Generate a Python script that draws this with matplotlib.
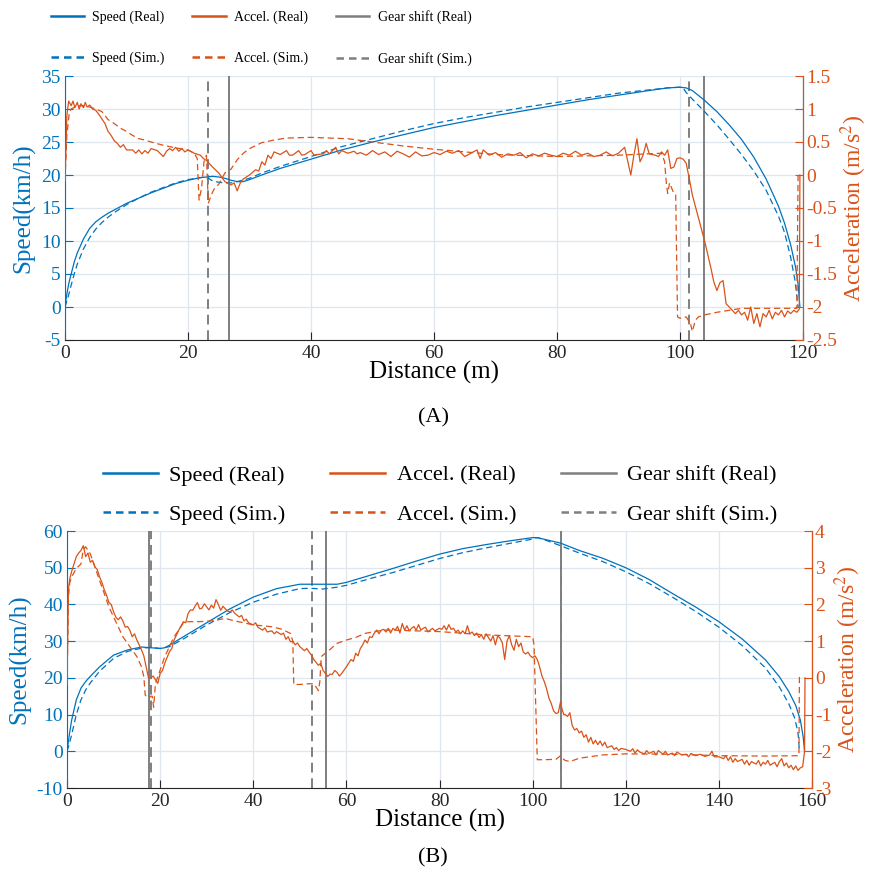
import numpy as np
import matplotlib
matplotlib.use("Agg")
import matplotlib.pyplot as plt
from matplotlib.lines import Line2D

plt.rcParams['font.family'] = ['Liberation Serif', 'DejaVu Serif']
plt.rcParams['mathtext.fontset'] = 'stix'
plt.rcParams['axes.unicode_minus'] = False

BLUE = '#0072BD'
ORANGE = '#D95319'
GRAY = '#7f7f7f'
GRID = '#dfe6ee'

# ---------------- panel A data ----------------
a_spd_real = [(0, 0), (0.3, 2), (0.6, 3.5), (1, 5), (1.5, 6.8), (2, 8.2), (3, 10.3), (4, 11.9),
              (5, 12.9), (6, 13.6), (7, 14.2), (8, 14.7), (9, 15.2), (10, 15.7), (12, 16.5),
              (14, 17.3), (16, 18), (18, 18.7), (20, 19.2), (22, 19.6), (24, 19.8), (25, 19.7),
              (26, 19.5), (27, 19.2), (28, 19.0), (29, 19.0), (30, 19.3), (32, 20.0), (35, 21.0),
              (40, 22.4), (45, 23.8), (50, 25.0), (55, 26.1), (60, 27.2), (65, 28.1), (70, 29.0),
              (75, 29.8), (80, 30.6), (85, 31.4), (90, 32.1), (95, 32.8), (98, 33.2), (100, 33.3),
              (101, 33.2), (102, 32.8), (104, 31.3), (106, 29.6), (108, 27.6), (110, 25.4),
              (112, 22.7), (114, 19.4), (116, 15.3), (117, 12.7), (118, 9.4), (118.8, 6),
              (119.2, 3.5), (119.5, 0)]
a_spd_sim = [(0, 0), (0.5, 1.5), (1, 3.3), (1.5, 5), (2, 6.5), (3, 8.8), (4, 10.5), (5, 11.8),
             (6, 12.8), (7, 13.6), (8, 14.3), (9, 14.9), (10, 15.5), (12, 16.5), (14, 17.4),
             (16, 18.1), (18, 18.8), (20, 19.3), (22, 19.6), (23, 19.7), (24, 19.1), (25, 18.9),
             (26, 18.8), (27, 18.8), (28, 19.0), (30, 19.5), (32, 20.3), (35, 21.3), (40, 22.8),
             (45, 24.3), (50, 25.5), (55, 26.7), (60, 27.8), (65, 28.7), (70, 29.5), (75, 30.3),
             (80, 31.0), (85, 31.7), (90, 32.4), (95, 32.9), (98, 33.2), (100, 33.3),
             (100.5, 33.2), (101, 32.5), (102, 31.5), (104, 29.6), (106, 27.6), (108, 25.4),
             (110, 23.1), (112, 20.6), (114, 17.7), (116, 13.8), (117, 11.3), (118, 7.5),
             (118.7, 4), (119.2, 0)]
a_acc_real = [(0, -0.1), (0.3, 0.9), (0.6, 1.12), (1, 1.05), (1.3, 1.12), (1.6, 1.02), (2, 1.1),
              (2.3, 1.0), (2.6, 1.08), (3, 1.02), (3.3, 1.1), (3.6, 1.03), (4, 1.06), (4.5, 1.0),
              (5, 0.98), (5.5, 0.92), (6, 0.85), (6.5, 0.78), (7, 0.66), (7.5, 0.6), (8, 0.52),
              (8.5, 0.48), (9, 0.42), (9.5, 0.46), (10, 0.38), (11, 0.38), (11.5, 0.33),
              (12, 0.38), (12.5, 0.32), (13, 0.37), (13.5, 0.33), (14, 0.4), (15, 0.37),
              (16, 0.28), (16.5, 0.36), (17, 0.4), (17.5, 0.37), (18, 0.42), (18.5, 0.36),
              (19, 0.4), (19.5, 0.35), (20, 0.38), (21, 0.33), (22, 0.3), (22.5, 0.25),
              (23, 0.22), (24, 0.12), (25, 0.03), (26, -0.1), (27, -0.15), (27.5, -0.12),
              (28, -0.24), (28.5, -0.12), (29, -0.06), (30, 0.0), (31, 0.08), (31.5, 0.06),
              (32, 0.2), (32.5, 0.15), (33, 0.3), (33.5, 0.25), (34, 0.35), (35, 0.31),
              (36, 0.37), (36.5, 0.3), (37, 0.3), (38, 0.37), (38.5, 0.3), (39, 0.31), (40, 0.37),
              (40.5, 0.3), (41, 0.31), (42, 0.32), (42.5, 0.37), (43, 0.32), (44, 0.42),
              (44.5, 0.32), (45, 0.37), (46, 0.33), (47, 0.36), (47.5, 0.32), (48, 0.34),
              (49, 0.3), (50, 0.37), (51, 0.31), (52, 0.35), (53, 0.28), (54, 0.36), (55, 0.32),
              (56, 0.27), (57, 0.35), (58, 0.29), (59, 0.3), (60, 0.34), (61, 0.31), (62, 0.36),
              (63, 0.33), (64, 0.37), (65, 0.28), (66, 0.33), (67, 0.38), (67.5, 0.25),
              (68, 0.38), (69, 0.3), (70, 0.34), (71, 0.27), (72, 0.32), (73, 0.3), (74, 0.34),
              (75, 0.26), (76, 0.32), (77, 0.29), (78, 0.33), (79, 0.3), (80, 0.28), (81, 0.33),
              (82, 0.3), (83, 0.36), (84, 0.3), (85, 0.33), (86, 0.28), (87, 0.3), (88, 0.35),
              (89, 0.29), (90, 0.33), (91, 0.42), (92, 0.0), (92.5, 0.3), (93, 0.55), (93.5, 0.2),
              (94, 0.3), (94.5, 0.48), (95, 0.32), (96, 0.3), (96.5, 0.28), (97, 0.35),
              (97.5, 0.3), (98, 0.38), (98.5, 0.1), (99, 0.12), (99.5, 0.25), (100, 0.26),
              (100.5, 0.24), (101, 0.18), (101.5, -0.05), (102, -0.3), (103, -0.65), (104, -1.0),
              (105, -1.4), (105.5, -1.62), (106, -1.75), (106.5, -1.63), (107, -1.6),
              (107.5, -1.95), (108, -2.0), (108.5, -2.05), (109, -2.1), (109.5, -2.05),
              (110, -2.12), (110.5, -2.08), (111, -2.2), (111.5, -2.0), (112, -2.25),
              (112.5, -2.1), (113, -2.3), (113.5, -2.1), (114, -2.15), (114.5, -2.05),
              (115, -2.18), (115.5, -2.08), (116, -2.12), (116.5, -2.05), (117, -2.15),
              (117.5, -2.06), (118, -2.1), (118.5, -2.05), (119, -2.08), (119.4, -2.03),
              (119.5, 0.0)]
a_acc_sim = [(0, -0.08), (0.3, 0.6), (0.7, 0.95), (1, 1.0), (2, 1.05), (3, 1.05), (4, 1.03),
             (5, 1.0), (6, 0.96), (7, 0.84), (8, 0.78), (9, 0.71), (10, 0.66), (11, 0.6),
             (12, 0.55), (13, 0.53), (14, 0.5), (16, 0.45), (18, 0.41), (20, 0.38), (21, 0.33),
             (21.5, 0.25), (21.8, -0.38), (22.2, -0.2), (22.6, 0.2), (23.0, 0.3), (23.3, -0.43),
             (23.8, -0.3), (24.2, -0.22), (25, -0.14), (26, 0.03), (27, 0.09), (28, 0.23),
             (29, 0.33), (30, 0.4), (32, 0.49), (34, 0.53), (36, 0.56), (40, 0.57), (46, 0.55),
             (50, 0.5), (55, 0.44), (60, 0.39), (70, 0.31), (80, 0.28), (90, 0.3), (97, 0.33),
             (97.5, 0.2), (97.8, -0.15), (98.0, -0.28), (98.3, -0.12), (99, -0.28),
             (99.3, -0.3), (99.6, -2.15), (100, -2.17), (101, -2.15), (101.7, -2.25),
             (102, -2.37), (102.5, -2.2), (103, -2.15), (104, -2.12), (106, -2.08),
             (108, -2.05), (110, -2.02), (119, -2.02), (119.2, 0.0)]
a_gear_real = [26.6, 103.9]
a_gear_sim = [23.2, 101.5]

# ---------------- panel B data ----------------
b_spd_real = [(0, 0), (0.5, 4.5), (1, 8.5), (2, 14), (3, 17.2), (4, 19), (5, 20.4), (7, 23),
              (10, 26.2), (13, 27.6), (16, 28.4), (18, 28.2), (20, 28.0), (21, 28.2), (22, 28.9),
              (25, 31.2), (30, 35.0), (35, 38.8), (40, 42.0), (45, 44.3), (50, 45.5), (55, 45.5),
              (58, 45.5), (60, 46.0), (65, 47.9), (70, 49.8), (75, 51.8), (80, 53.7), (85, 55.2),
              (90, 56.3), (95, 57.3), (100, 58.2), (101, 58.2), (103, 57.6), (106, 56.7),
              (110, 54.7), (115, 52.6), (120, 50.0), (125, 46.8), (130, 43.0), (135, 39.3),
              (140, 35.3), (145, 30.6), (150, 24.9), (153, 20.3), (155, 16.3), (156.5, 12.5),
              (157.5, 8.5), (158.1, 4), (158.4, 0)]
b_spd_sim = [(0, 0), (0.5, 2), (1, 4.5), (2, 10), (3, 14), (4, 16.7), (5, 18.6), (7, 21.8),
             (10, 25.3), (13, 27.2), (16, 28.1), (18, 28.3), (20, 28.0), (22, 28.5), (25, 30.6),
             (30, 34.4), (35, 37.8), (40, 40.6), (45, 42.8), (50, 44.3), (52, 44.4), (55, 44.2),
             (58, 44.7), (60, 45.2), (65, 47.0), (70, 48.7), (75, 50.6), (80, 52.5), (85, 54.1),
             (90, 55.4), (95, 56.6), (100, 57.8), (101, 58.2), (103, 57.4), (106, 56.0),
             (110, 54.0), (115, 51.7), (120, 48.9), (125, 45.7), (130, 42.0), (135, 38.1),
             (140, 33.8), (145, 28.8), (150, 22.7), (153, 17.5), (155, 13.0), (156.3, 9),
             (157, 5), (157.3, 0)]
b_acc_real = [(0, -0.2), (0.3, 2.4), (0.6, 2.7), (1, 2.9), (1.5, 3.1), (2, 3.3), (2.5, 3.4),
              (3, 3.47), (3.5, 3.6), (4, 3.3), (4.5, 3.4), (5, 3.15), (5.5, 3.2), (6, 3.02),
              (6.5, 2.95), (7, 2.75), (7.5, 2.6), (8, 2.4), (8.5, 2.25), (9, 2.05), (9.5, 2.0),
              (10, 1.8), (10.5, 1.65), (11, 1.58), (11.5, 1.66), (12, 1.55), (12.5, 1.38),
              (13, 1.4), (13.5, 1.3), (14, 1.12), (14.5, 1.2), (15, 1.03), (15.5, 0.9),
              (16, 0.76), (16.5, 0.6), (17, 0.3), (17.5, 0.0), (18, 0.0), (18.5, 0.05),
              (19, -0.05), (19.5, -0.15), (20, 0.12), (20.5, 0.2), (21, 0.4), (22, 0.71),
              (22.5, 0.8), (23, 1.03), (24, 1.3), (25, 1.53), (25.5, 1.5), (26, 1.75),
              (26.5, 1.85), (27, 1.84), (27.5, 1.95), (28, 2.05), (28.5, 1.88), (29, 1.9),
              (29.5, 2.02), (30, 1.93), (30.5, 1.85), (31, 1.98), (31.5, 1.9), (32, 2.13),
              (32.5, 2.0), (33, 1.84), (33.5, 1.95), (34, 1.88), (34.5, 1.82), (35, 1.8),
              (35.5, 1.85), (36, 1.76), (37, 1.66), (37.5, 1.7), (38, 1.55), (38.5, 1.6),
              (39, 1.5), (40, 1.44), (40.5, 1.5), (41, 1.38), (42, 1.3), (42.5, 1.36),
              (43, 1.25), (44, 1.28), (44.5, 1.2), (45, 1.26), (46, 1.18), (46.5, 1.22),
              (47, 1.05), (47.5, 1.12), (48, 0.98), (48.5, 1.0), (49, 0.9), (49.5, 0.95),
              (50, 0.85), (51, 0.74), (51.5, 0.8), (52, 0.7), (52.5, 0.62), (53, 0.5),
              (53.5, 0.42), (54, 0.34), (54.5, 0.4), (55, 0.2), (55.5, 0.12), (56, 0.04),
              (56.5, 0.1), (57, 0.1), (57.5, 0.2), (58, 0.15), (58.5, 0.05), (59, 0.12),
              (60, 0.3), (60.5, 0.4), (61, 0.5), (61.5, 0.45), (62, 0.67), (62.5, 0.6),
              (63, 0.8), (63.5, 0.9), (64, 1.03), (64.5, 0.95), (65, 1.12), (65.5, 1.1),
              (66, 1.22), (66.5, 1.3), (67, 1.2), (67.5, 1.3), (68, 1.32), (68.5, 1.25),
              (69, 1.35), (69.5, 1.22), (70, 1.35), (70.5, 1.3), (71, 1.4), (71.5, 1.22),
              (72, 1.48), (72.5, 1.3), (73, 1.42), (73.5, 1.28), (74, 1.35), (74.5, 1.4),
              (75, 1.3), (75.5, 1.45), (76, 1.3), (76.5, 1.35), (77, 1.38), (77.5, 1.25),
              (78, 1.3), (78.5, 1.35), (79, 1.28), (80, 1.35), (80.5, 1.32), (81, 1.42),
              (81.5, 1.3), (82, 1.45), (82.5, 1.32), (83, 1.35), (83.5, 1.25), (84, 1.3),
              (84.5, 1.2), (85, 1.28), (85.5, 1.2), (86, 1.42), (86.5, 1.2), (87, 1.25),
              (87.5, 1.15), (88, 1.22), (88.5, 1.1), (89, 1.18), (89.5, 1.05), (90, 1.2),
              (90.5, 1.1), (91, 1.0), (91.5, 1.15), (92, 0.9), (92.5, 1.15), (93, 1.08),
              (93.5, 0.95), (94, 0.5), (94.5, 1.0), (95, 1.15), (95.5, 0.9), (96, 0.75),
              (96.5, 1.05), (97, 0.85), (97.5, 0.95), (98, 0.7), (98.5, 0.65), (99, 0.7),
              (99.5, 0.6), (100, 0.55), (100.5, 0.6), (101, 0.5), (101.5, 0.3), (102, 0.05),
              (102.5, -0.1), (103, -0.3), (103.5, -0.55), (104, -0.7), (104.5, -0.9),
              (105, -0.97), (105.5, -0.95), (106, -0.65), (106.3, -0.85), (106.7, -1.0),
              (107, -1.0), (107.5, -1.05), (108, -0.95), (108.5, -1.3), (109, -1.42),
              (109.5, -1.38), (110, -1.5), (110.5, -1.45), (111, -1.62), (111.5, -1.55),
              (112, -1.75), (112.5, -1.62), (113, -1.8), (113.5, -1.7), (114, -1.82),
              (114.5, -1.72), (115, -1.85), (115.5, -1.75), (116, -1.9), (117, -1.85),
              (117.5, -1.95), (118, -1.9), (118.5, -1.98), (119, -1.92), (120, -1.95),
              (121, -2.0), (121.5, -1.93), (122, -2.05), (122.5, -1.96), (123, -2.02),
              (124, -2.07), (124.5, -1.98), (125, -2.06), (126, -2.0), (126.5, -2.1),
              (127, -1.98), (128, -2.08), (128.5, -2.0), (129, -2.1), (130, -2.05),
              (130.5, -2.12), (131, -2.02), (132, -2.1), (133, -2.08), (133.5, -2.15),
              (134, -2.06), (135, -2.12), (136, -2.08), (137, -2.14), (138, -2.1), (138.5, -2.0),
              (139, -2.15), (140, -2.15), (141, -2.2), (141.5, -2.12), (142, -2.25),
              (142.5, -2.15), (143, -2.3), (143.5, -2.2), (144, -2.28), (145, -2.22),
              (145.5, -2.35), (146, -2.25), (146.5, -2.38), (147, -2.28), (148, -2.35),
              (148.5, -2.25), (149, -2.4), (149.5, -2.3), (150, -2.35), (150.5, -2.25),
              (151, -2.38), (152, -2.3), (152.5, -2.42), (153, -2.28), (153.5, -2.2),
              (154, -2.4), (154.5, -2.32), (155, -2.45), (155.5, -2.38), (156, -2.5),
              (156.5, -2.4), (157, -2.52), (157.5, -2.45), (158, -2.42), (158.3, -2.1),
              (158.4, -2.0), (158.5, 0.0)]
b_acc_sim = [(0, -0.2), (0.3, 2.2), (0.6, 2.6), (1, 2.75), (2, 2.98), (3, 3.1), (3.5, 3.5),
             (4, 3.57), (5, 3.38), (6, 3.02), (7, 2.65), (8, 2.3), (9, 1.93), (10, 1.66),
             (11, 1.39), (12, 1.12), (13, 0.94), (14, 0.76), (15, 0.58), (16, 0.3), (16.5, 0.03),
             (16.8, -0.47), (17.5, -0.56), (18, -0.5), (18.3, -0.5), (18.6, -0.8), (19, -0.15),
             (20, 0.21), (21, 0.58), (22, 0.85), (23, 1.12), (24, 1.3), (25, 1.5), (26, 1.53),
             (28, 1.53), (30, 1.54), (32, 1.57), (34, 1.62), (36, 1.55), (38, 1.5), (40, 1.44),
             (42, 1.42), (44, 1.39), (46, 1.33), (48, 1.21), (48.5, 1.0), (48.7, -0.18),
             (50, -0.18), (52, -0.16), (53, -0.16), (53.5, -0.25), (54, -0.35), (54.3, -0.1),
             (54.6, 0.58), (56, 0.72), (58, 0.94), (60, 1.03), (62, 1.1), (64, 1.21),
             (66, 1.26), (68, 1.3), (70, 1.3), (80, 1.26), (90, 1.17), (100, 1.12), (100.3, 0.9),
             (101, -2.23), (102, -2.23), (105, -2.22), (106, -2.12), (106.5, -2.2),
             (107, -2.25), (108, -2.28), (110, -2.19), (115, -2.1), (120, -2.07), (130, -2.08),
             (140, -2.12), (150, -2.13), (157.2, -2.12), (157.3, 0.05)]
b_gear_real = [17.6, 55.6, 106.2]
b_gear_sim = [18.1, 52.7, 106.0]

DASH = (5, 3)


def panel(rect, xlim, xticks, ylim, yticks, ylim2, yticks2,
          spd_real, spd_sim, acc_real, acc_sim, gear_real, gear_sim):
    ax = fig.add_axes(rect)
    ax2 = ax.twinx()
    for g in gear_real:
        ax.axvline(g, color=GRAY, lw=1.4, zorder=3)
    for g in gear_sim:
        ax.axvline(g, color=GRAY, lw=1.4, ls='--', dashes=DASH, zorder=3)
    x, y = np.array(spd_real).T
    ax.plot(x, y, color=BLUE, lw=0.9, zorder=4)
    x, y = np.array(spd_sim).T
    ax.plot(x, y, color=BLUE, lw=0.9, ls='--', dashes=DASH, zorder=4)
    x, y = np.array(acc_real).T
    ax2.plot(x, y, color=ORANGE, lw=0.9)
    x, y = np.array(acc_sim).T
    ax2.plot(x, y, color=ORANGE, lw=0.9, ls='--', dashes=DASH)

    ax.set_xlim(*xlim)
    ax.set_xticks(xticks)
    ax.set_ylim(*ylim)
    ax.set_yticks(yticks)
    ax2.set_ylim(*ylim2)
    ax2.set_yticks(yticks2)
    ax2.set_yticklabels([f'{v:g}' for v in yticks2])
    ax.grid(True, color=GRID, lw=0.9)
    ax.set_axisbelow(True)

    for a in (ax, ax2):
        a.spines['top'].set_visible(False)
    ax.spines['left'].set_color(BLUE)
    ax.spines['bottom'].set_color('#262626')
    ax2.spines['right'].set_color(ORANGE)
    ax2.spines['left'].set_visible(False)
    ax2.spines['bottom'].set_visible(False)
    ax.tick_params(axis='y', colors=BLUE, direction='in', length=6, labelsize=14, pad=3)
    ax.tick_params(axis='x', colors='#262626', direction='in', length=6, labelsize=14)
    ax2.tick_params(axis='y', colors=ORANGE, direction='in', length=6, labelsize=14, pad=2)
    ax.set_xlabel('Distance (m)', fontsize=18, labelpad=-1)
    ax.set_ylabel('Speed(km/h)', fontsize=18, color=BLUE, labelpad=4)
    ax2.set_ylabel('Acceleration (m/s$^2$)', fontsize=17, color=ORANGE, labelpad=1)
    return ax, ax2


def legend_handles():
    return [Line2D([], [], color=BLUE, lw=1.8),
            Line2D([], [], color=BLUE, lw=1.8, ls='--', dashes=(3, 2)),
            Line2D([], [], color=ORANGE, lw=1.8),
            Line2D([], [], color=ORANGE, lw=1.8, ls='--', dashes=(3, 2)),
            Line2D([], [], color=GRAY, lw=1.8),
            Line2D([], [], color=GRAY, lw=1.8, ls='--', dashes=(3, 2))]


labels = ['Speed (Real)', 'Speed (Sim.)', 'Accel. (Real)', 'Accel. (Sim.)',
          'Gear shift (Real)', 'Gear shift (Sim.)']

fig = plt.figure(figsize=(8.71, 8.8), dpi=100)

panel([65 / 871, 1 - 340 / 880, 738 / 871, 264 / 880], (0, 120), range(0, 121, 20),
      (-5, 35), range(-5, 36, 5), (-2.5, 1.5), np.arange(-2.5, 1.51, 0.5),
      a_spd_real, a_spd_sim, a_acc_real, a_acc_sim, a_gear_real, a_gear_sim)
panel([67 / 871, 1 - 788 / 880, 745 / 871, 257 / 880], (0, 160), range(0, 161, 20),
      (-10, 60), range(-10, 61, 10), (-3, 4), range(-3, 5, 1),
      b_spd_real, b_spd_sim, b_acc_real, b_acc_sim, b_gear_real, b_gear_sim)

fig.legend(legend_handles(), labels, ncol=3, loc='center', frameon=False,
           bbox_to_anchor=(261 / 871, 1 - 38 / 880), fontsize=10, handlelength=2.4,
           handletextpad=0.6, columnspacing=2.0, labelspacing=2.0)
fig.legend(legend_handles(), labels, ncol=3, loc='center', frameon=False,
           bbox_to_anchor=(440 / 871, 1 - 495 / 880), fontsize=16, handlelength=2.5,
           handletextpad=0.5, columnspacing=2.0, labelspacing=0.85)

fig.text(433 / 871, 1 - 418 / 880, '(A)', ha='center', va='center', fontsize=16)
fig.text(433 / 871, 1 - 858 / 880, '(B)', ha='center', va='center', fontsize=16)

fig.savefig('out.png', dpi=100)
